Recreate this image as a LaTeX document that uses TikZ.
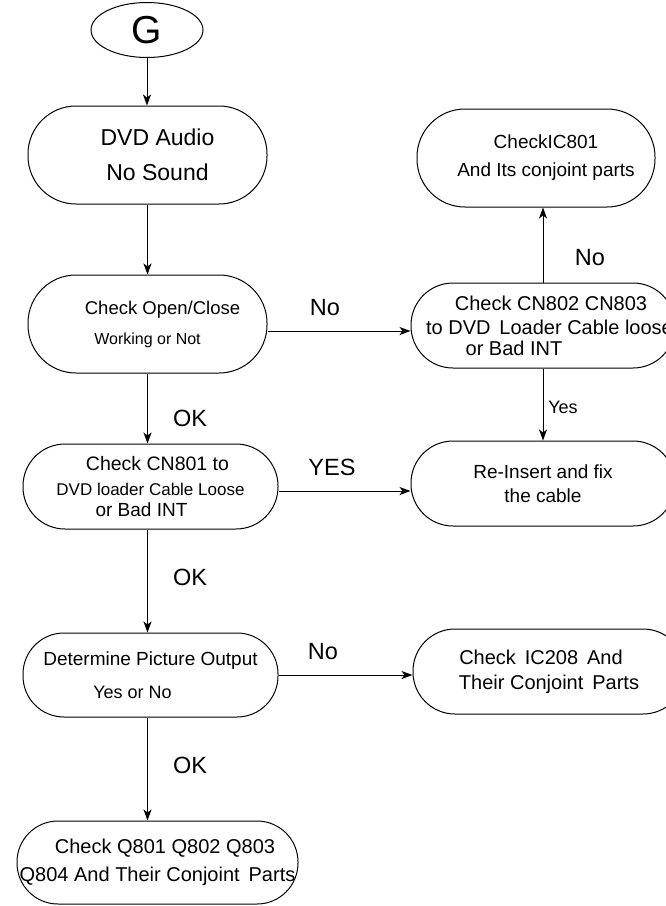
\documentclass[tikz,border=0pt]{standalone}
\usepackage{fontspec}
\setmainfont{Liberation Sans}
\usetikzlibrary{shapes.geometric,arrows.meta}

\begin{document}
\begin{tikzpicture}[x=1pt,y=-1pt]
        \tikzstyle{flow}=[draw, rectangle, line width=1pt, inner sep=0pt, align=center]
        \tikzstyle{lbl}=[inner sep=0pt, font=\fontsize{23.5}{24}\selectfont]
        \tikzstyle{arr}=[line width=1pt, -{Stealth[length=11pt,width=8pt,inset=3pt]}]
        \useasboundingbox (0,0) rectangle (665,906);
        \node[ellipse, draw, line width=1pt, minimum width=112pt, minimum height=55pt, inner sep=0pt, font=\fontsize{39}{39}\selectfont] (g) at (147,30) {G};
        \node[flow, rounded corners=48pt, minimum width=239pt, minimum height=98pt, font=\fontsize{23}{35}\selectfont] (audio) at (147.5,155) {\hspace*{20pt}DVD Audio\\\hspace*{20pt}No Sound};
        \node[flow, rounded corners=48pt, minimum width=239pt, minimum height=98pt, font=\fontsize{18.5}{30}\selectfont] (oc) at (147.5,324) {\hspace*{30pt}Check Open/Close\\\fontsize{16}{30}\selectfont Working or Not};
        \node[flow, rounded corners=42pt, minimum width=255pt, minimum height=85pt, font=\fontsize{19.5}{24}\selectfont] (cn801) at (150.5,486.5) {\hspace*{14pt}Check CN801 to\\[1pt]\fontsize{17}{24}\selectfont DVD loader Cable Loose\\[-3pt]\fontsize{19}{24}\selectfont or Bad INT\hspace*{18pt}};
        \node[flow, rounded corners=41pt, minimum width=255pt, minimum height=84pt, font=\fontsize{19}{33}\selectfont] (pic) at (150.5,675) {Determine Picture Output\\\fontsize{18}{33}\selectfont Yes or No\hspace*{36pt}};
        \node[flow, rounded corners=41pt, minimum width=281pt, minimum height=83pt, font=\fontsize{20}{28}\selectfont] (qparts) at (157.5,862.5) {\hspace*{15pt}Check Q801 Q802 Q803\\Q804 And Their Conjoint\, Parts};
        \node[flow, rounded corners=48pt, minimum width=238pt, minimum height=98pt, font=\fontsize{19}{28}\selectfont] (ic801) at (536,158) {\hspace*{20pt}CheckIC801\\\hspace*{20pt}And Its conjoint parts};
        \node[flow, rounded corners=42pt, minimum width=264pt, minimum height=85pt, font=\fontsize{20}{24}\selectfont] (cn802) at (543,325.5) {\hspace*{16pt}Check CN802 CN803\\\hspace*{13pt}to DVD\, Loader Cable loose\\[-3pt]or Bad INT\hspace*{58pt}};
        \node[flow, rounded corners=42pt, minimum width=264pt, minimum height=85pt, font=\fontsize{19}{24}\selectfont] (reinsert) at (543,483.5) {Re-Insert and fix\\the cable};
        \node[flow, rounded corners=42pt, minimum width=272pt, minimum height=85pt, font=\fontsize{20}{25}\selectfont] (ic208) at (549,671.5) {Check\, IC208\, And\hspace*{16pt}\\Their Conjoint\, Parts};
        \draw[arr] (g.south) -- (g.south |- audio.north);
        \draw[arr] (audio.south) -- (oc.north);
        \draw[arr] (oc.south) -- (oc.south |- cn801.north);
        \draw[arr] (oc.south |- cn801.south) -- (oc.south |- pic.north);
        \draw[arr] (oc.south |- pic.south) -- (oc.south |- qparts.north);
        \draw[arr] ([yshift=-7pt]oc.east) -- ([yshift=-7pt]oc.east -| cn802.west);
        \draw[arr] (cn802.north) -- (cn802.north |- ic801.south);
        \draw[arr] (cn802.south) -- (reinsert.north);
        \draw[arr] ([yshift=-4.5pt]cn801.east) -- ([yshift=-4.5pt]cn801.east -| reinsert.west);
        \draw[arr] (pic.east) -- (pic.east -| ic208.west);
        \node[lbl] (no1) at (325,308) {No};
        \node[lbl] (ok1) at (190,418) {OK};
        \node[lbl] (yes1) at (332,467) {YES};
        \node[lbl] (no2) at (590,258) {No};
        \node[lbl, font=\fontsize{18}{18}\selectfont] (yes2) at (563,407) {Yes};
        \node[lbl] (ok2) at (190,577) {OK};
        \node[lbl] (no3) at (323,652) {No};
        \node[lbl] (ok3) at (190,765) {OK};
\end{tikzpicture}
\end{document}
